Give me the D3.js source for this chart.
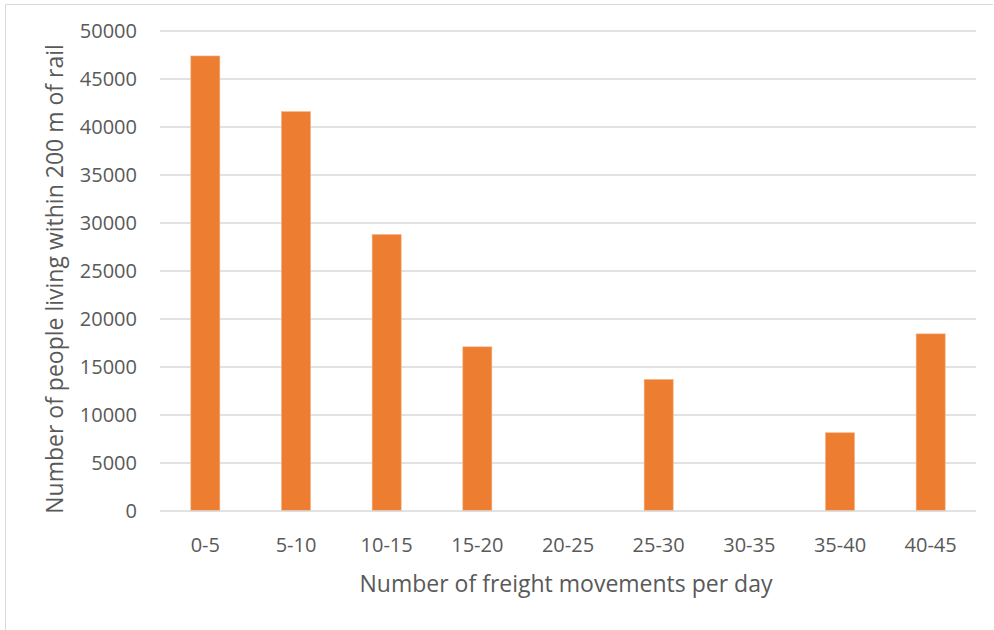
<!DOCTYPE html>
<html>
<head>
<meta charset="utf-8">
<script src="https://cdn.jsdelivr.net/npm/d3@7"></script>
<style>
  html, body { margin: 0; padding: 0; background: #ffffff; }
  svg { display: block; }
  text { font-family: "Open Sans", "Noto Sans", sans-serif; fill: #595959; }
</style>
</head>
<body>
<svg id="chart" width="994" height="630"></svg>
<script>
// Freight movement bands and residents within 200 m of the rail line
const categories = ["0-5", "5-10", "10-15", "15-20", "20-25", "25-30", "30-35", "35-40", "40-45"];
const people = [47400, 41600, 28800, 17100, 0, 13700, 0, 8150, 18450];
const yTicks = [0, 5000, 10000, 15000, 20000, 25000, 30000, 35000, 40000, 45000, 50000];

const xTitle = "Number of freight movements per day";
const yTitle = "Number of people living within 200 m of rail";

const svg = d3.select("#chart");
const W = 994, H = 630;
const plot = { left: 160, right: 976, top: 31, bottom: 511 };

// chart frame (top and left edges visible)
svg.append("path")
  .attr("d", `M5.5,${H} V4.5 H993`)
  .attr("fill", "none")
  .attr("stroke", "#d9d9d9")
  .attr("stroke-width", 1);

const x = d3.scaleBand()
  .domain(categories)
  .range([plot.left, plot.right])
  .paddingInner(0.68)
  .paddingOuter(0.34);

const y = d3.scaleLinear()
  .domain([0, 50000])
  .range([plot.bottom, plot.top]);

// horizontal gridlines
svg.append("g")
  .selectAll("line")
  .data(yTicks.filter(d => d > 0))
  .join("line")
  .attr("x1", plot.left)
  .attr("x2", plot.right)
  .attr("y1", d => y(d))
  .attr("y2", d => y(d))
  .attr("stroke", "#d9d9d9")
  .attr("stroke-width", 1.5);

// bars
svg.append("g")
  .selectAll("rect")
  .data(categories.map((c, i) => ({ c, v: people[i] })).filter(d => d.v > 0))
  .join("rect")
  .attr("x", d => x(d.c))
  .attr("width", x.bandwidth())
  .attr("y", d => y(d.v))
  .attr("height", d => y(0) - y(d.v))
  .attr("fill", "#ed7d31")
  .attr("stroke", "#f4b183")
  .attr("stroke-width", 0.6);

// category axis line
svg.append("line")
  .attr("x1", plot.left)
  .attr("x2", plot.right)
  .attr("y1", y(0))
  .attr("y2", y(0))
  .attr("stroke", "#d9d9d9")
  .attr("stroke-width", 1.5);

// y tick labels
svg.append("g")
  .selectAll("text")
  .data(yTicks)
  .join("text")
  .attr("x", 137)
  .attr("y", d => y(d))
  .attr("dy", "0.36em")
  .attr("text-anchor", "end")
  .attr("font-size", 20)
  .text(d => d);

// x tick labels
svg.append("g")
  .selectAll("text")
  .data(categories)
  .join("text")
  .attr("x", d => x(d) + x.bandwidth() / 2)
  .attr("y", 552)
  .attr("text-anchor", "middle")
  .attr("font-size", 20)
  .text(d => d);

// axis titles
svg.append("text")
  .attr("x", 566)
  .attr("y", 592)
  .attr("text-anchor", "middle")
  .attr("font-size", 23)
  .text(xTitle);

svg.append("text")
  .attr("transform", "translate(63,279) rotate(-90)")
  .attr("text-anchor", "middle")
  .attr("font-size", 23)
  .text(yTitle);
</script>
</body>
</html>
